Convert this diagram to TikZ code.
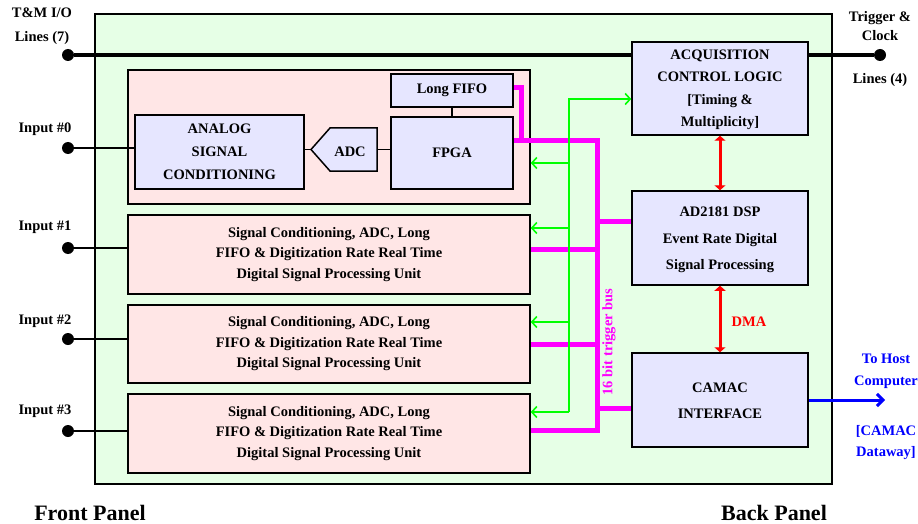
\documentclass[tikz,border=0pt]{standalone}
\usepackage{fontspec}
\setmainfont{Liberation Serif}
\usetikzlibrary{arrows.meta}
\definecolor{bggreen}{RGB}{230,255,230}
\definecolor{bgpink}{RGB}{255,230,230}
\definecolor{bglav}{RGB}{230,230,255}
\definecolor{mag}{RGB}{255,0,255}
\definecolor{grn}{RGB}{0,255,0}
\definecolor{rd}{RGB}{255,0,0}
\definecolor{bl}{RGB}{0,0,255}
\newcommand{\bxt}[2]{\raisebox{#1}{\begin{tabular}{@{}c@{}}#2\end{tabular}}}
\tikzset{
  box/.style={draw=black, line width=1.5pt, align=center, inner sep=0pt,
    font=\fontsize{14.5}{22}\selectfont\bfseries},
  lavbox/.style={box, fill=bglav},
  pinkbox/.style={box, fill=bgpink},
  dotnode/.style={circle, fill=black, inner sep=0pt, minimum size=12pt},
  lbl/.style={font=\fontsize{14.5}{19}\selectfont\bfseries, align=center, inner sep=0pt},
  panel/.style={font=\fontsize{22}{24}\selectfont\bfseries, inner sep=0pt},
  magbus/.style={draw=mag, line width=5pt},
  grnline/.style={draw=grn, line width=1.6pt},
  grnarrow/.style={grnline, -{Straight Barb[length=5pt,width=11pt]}},
  redarrow/.style={draw=rd, line width=3pt, {Triangle[length=5pt,width=11pt]}-{Triangle[length=5pt,width=11pt]}},
  bluearrow/.style={draw=bl, line width=3pt, -{Straight Barb[length=6pt,width=12pt]}},
  thinline/.style={draw=black, line width=1.5pt},
  thickline/.style={draw=black, line width=3.5pt},
}
\begin{document}
\begin{tikzpicture}[x=1pt,y=-1pt]
\useasboundingbox (0,0) rectangle (918,524);
% outer green panel
\node[draw=black, line width=1.5pt, fill=bggreen, minimum width=737pt, minimum height=470pt, inner sep=0pt] (outer) at (463.5,249) {};

% channel 0 block
\node[pinkbox, minimum width=402pt, minimum height=134pt] (in0) at (329,137) {};
\node[lavbox, minimum width=169pt, minimum height=74pt, font=\fontsize{14.5}{23}\selectfont\bfseries] (analog) at (219.5,152)
  {\bxt{-2pt}{ANALOG\\SIGNAL\\CONDITIONING}};
\node[lavbox, minimum width=122pt, minimum height=72pt] (fpga) at (452,153)
  {\raisebox{-6pt}{FPGA}};
\node[lavbox, minimum width=122pt, minimum height=33pt] (fifo) at (452,90.5) {\raisebox{2pt}{Long FIFO}};
\draw[thinline, fill=bglav] (311,149.5) -- (330,128) -- (377,128) -- (377,171) -- (330,171) -- cycle;
\node[lbl] (adc) at (350,152) {ADC};
\coordinate (adctip) at (311,149.5);
\coordinate (adcright) at (377,149.5);
\draw[thinline] (analog.east |- adctip) -- (adctip);
\draw[thinline] (adcright) -- (fpga.west |- adcright);
\draw[thinline] (fifo.south) -- (fpga.north);

% channels 1-3
\node[pinkbox, minimum width=402pt, minimum height=79pt, font=\fontsize{14.5}{20.5}\selectfont\bfseries] (in1) at (329,254.5)
  {Signal Conditioning, ADC, Long\\FIFO \& Digitization Rate Real Time\\Digital Signal Processing Unit};
\node[pinkbox, minimum width=402pt, minimum height=78pt, font=\fontsize{14.5}{20.5}\selectfont\bfseries] (in2) at (329,344)
  {Signal Conditioning, ADC, Long\\FIFO \& Digitization Rate Real Time\\Digital Signal Processing Unit};
\node[pinkbox, minimum width=402pt, minimum height=79pt, font=\fontsize{14.5}{20.5}\selectfont\bfseries] (in3) at (329,433.5)
  {Signal Conditioning, ADC, Long\\FIFO \& Digitization Rate Real Time\\Digital Signal Processing Unit};

% right column
\node[lavbox, minimum width=176pt, minimum height=93pt, font=\fontsize{14.5}{22.5}\selectfont\bfseries] (acq) at (720,88.5)
  {\bxt{-3pt}{ACQUISITION\\CONTROL LOGIC\\{[Timing \&}\\Multiplicity]}};
\node[lavbox, minimum width=176pt, minimum height=94pt, font=\fontsize{14.5}{26.5}\selectfont\bfseries] (dsp) at (720,238)
  {\bxt{-4pt}{AD2181 DSP\\Event Rate Digital\\Signal Processing}};
\node[lavbox, minimum width=176pt, minimum height=94pt, font=\fontsize{14.5}{26}\selectfont\bfseries] (camac) at (720,400)
  {\bxt{-2pt}{CAMAC\\INTERFACE}};

% input dots and labels
\node[dotnode] (tmdot) at (68,55) {};
\node[dotnode] (dot0) at (68,148) {};
\node[dotnode] (dot1) at (68,248) {};
\node[dotnode] (dot2) at (68,339) {};
\node[dotnode] (dot3) at (68,431) {};
\node[dotnode] (trigdot) at (880,55) {};
\node[lbl, font=\fontsize{14.5}{24}\selectfont\bfseries] (tmlbl) at (42,26) {T\&M I/O\\Lines (7)};
\node[lbl] (lbl0) at (45,129) {Input \#0};
\node[lbl] (lbl1) at (45,227) {Input \#1};
\node[lbl] (lbl2) at (45,321) {Input \#2};
\node[lbl] (lbl3) at (45,411) {Input \#3};
\node[lbl] (triglbl) at (880,26) {Trigger \&\\Clock};
\node[lbl] (trigl2) at (880,80) {Lines (4)};

\draw[thickline] (tmdot) -- (acq.west |- tmdot);
\draw[thickline] (acq.east |- trigdot) -- (trigdot);
\draw[thinline] (dot0) -- (analog.west |- dot0);
\draw[thinline] (dot1) -- (in1.west |- dot1);
\draw[thinline] (dot2) -- (in2.west |- dot2);
\draw[thinline] (dot3) -- (in3.west |- dot3);

% magenta trigger bus
\coordinate (bt) at (597,141);
\coordinate (bb) at (597,430);
\coordinate (bus1) at (597,249);
\coordinate (bus2) at (597,344);
\coordinate (bdsp) at (597,221);
\coordinate (bcam) at (597,408);
\coordinate (fifoc) at (521,88);
\draw[magbus] (fifo.east |- fifoc) -- (fifoc) -- (fifoc |- bt);
\draw[magbus, line join=miter] (fpga.east |- bt) -- (bt) -- (bb) -- (in3.east |- bb);
\draw[magbus] (bus1) -- (in1.east |- bus1);
\draw[magbus] (bus2) -- (in2.east |- bus2);
\draw[magbus] (bdsp) -- (dsp.west |- bdsp);
\draw[magbus] (bcam) -- (camac.west |- bcam);
\node[lbl, text=mag, rotate=90, font=\fontsize{14.5}{16}\selectfont\bfseries] (buslbl) at (609,342) {16 bit trigger bus};

% green lines
\coordinate (gtop) at (569,99);
\coordinate (g0) at (569,163);
\coordinate (g1) at (569,228);
\coordinate (g2) at (569,322);
\coordinate (g3) at (569,412);
\draw[grnarrow] (g3) -- (gtop) -- (acq.west |- gtop);
\draw[grnarrow] (g0) -- (in0.east |- g0);
\draw[grnarrow] (g1) -- (in1.east |- g1);
\draw[grnarrow] (g2) -- (in2.east |- g2);
\draw[grnarrow] (g3) -- (in3.east |- g3);

% red arrows
\draw[redarrow] (acq.south) -- (dsp.north);
\draw[redarrow] (dsp.south) -- (camac.north);
\node[lbl, text=rd] (dmalbl) at (749,322) {DMA};

% blue arrow
\coordinate (hostend) at (885,400);
\draw[bluearrow] (camac.east) -- (hostend);
\node[lbl, text=bl, font=\fontsize{14.5}{22}\selectfont\bfseries] (hostlbl) at (886,371) {To Host\\Computer};
\node[lbl, text=bl, font=\fontsize{14.5}{21}\selectfont\bfseries] (dwlbl) at (886,442.5) {[CAMAC\\Dataway]};

% panel labels
\node[panel] (front) at (90,513) {Front Panel};
\node[panel] (back) at (774,513) {Back Panel};
\end{tikzpicture}
\end{document}
